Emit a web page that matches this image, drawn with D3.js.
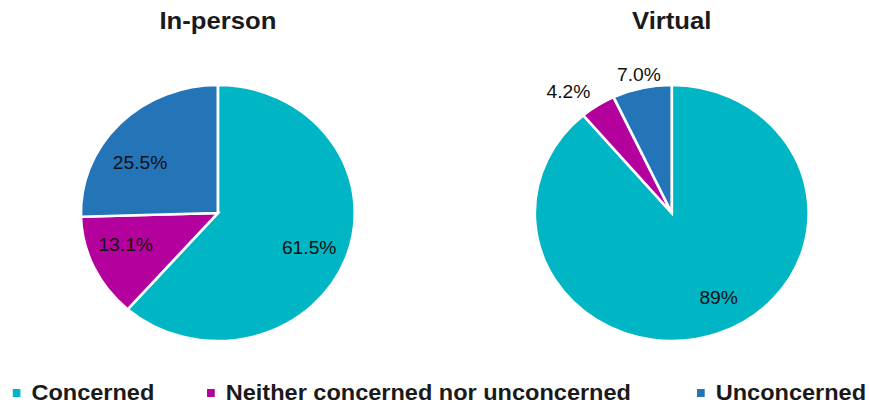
<!DOCTYPE html>
<html>
<head>
<meta charset="utf-8">
<script src="https://cdn.jsdelivr.net/npm/d3@7"></script>
<style>
  html, body { margin: 0; padding: 0; background: #fff; }
  svg { display: block; font-family: "Liberation Sans", Arial, sans-serif; }
</style>
</head>
<body>
<svg id="chart" width="870" height="406"></svg>
<script>
// Survey responses, in percent
const categories = ["Concerned", "Neither concerned nor unconcerned", "Unconcerned"];
const panels = ["In-person", "Virtual"];
const inPersonValues = [61.5, 13.1, 25.5];
const virtualValues = [89, 4.2, 7.0];
const inPersonLabels = ["61.5%", "13.1%", "25.5%"];
const virtualLabels = ["89%", "4.2%", "7.0%"];
const colors = ["#00b6c4", "#b4009c", "#2474b8"];

// Small hand adjustments of the value labels, in screen pixels
const inPersonLabelShift = [[-1, 2], [-3, -8], [-7, 14]];
const virtualLabelShift = [[13, -2], [0, -3], [0, -1]];

const W = 870, H = 406;
const sx = 1.07;            // horizontal stretch of the whole drawing
const R = 128;
const cy = 213;

const svg = d3.select("#chart");
const root = svg.append("g").attr("transform", `scale(${sx},1)`);

const color = d3.scaleOrdinal().domain(categories).range(colors);
const panelX = d3.scalePoint().domain(panels).range([203.6, 627.8]);

const pie = d3.pie().sort(null).value(d => d.value);
const arc = d3.arc().innerRadius(0).outerRadius(R);
const labelArc = d3.arc().innerRadius(R * 0.72).outerRadius(R * 0.72);

const datasets = [
  { title: panels[0], values: inPersonValues, labels: inPersonLabels, shift: inPersonLabelShift },
  { title: panels[1], values: virtualValues, labels: virtualLabels, shift: virtualLabelShift }
];

datasets.forEach(ds => {
  const cx = panelX(ds.title);
  const g = root.append("g").attr("transform", `translate(${cx},${cy})`);
  const data = categories.map((c, i) => ({
    cat: c, value: ds.values[i], label: ds.labels[i], shift: ds.shift[i]
  }));
  const arcs = pie(data);

  g.selectAll("path.slice").data(arcs).join("path")
    .attr("class", "slice")
    .attr("d", arc)
    .attr("fill", d => color(d.data.cat))
    .attr("stroke", "#fff")
    .attr("stroke-width", 2.5)
    .attr("stroke-linejoin", "miter");

  g.selectAll("text.val").data(arcs).join("text")
    .attr("class", "val")
    .each(function(d) {
      const t = d3.select(this);
      const mid = (d.startAngle + d.endAngle) / 2;
      const [dx, dy] = d.data.shift;
      if (d.data.value >= 10) {
        const [x, y] = labelArc.centroid(d);
        t.attr("x", x + dx / sx).attr("y", y + dy).attr("text-anchor", "middle");
      } else {
        const r = R * 1.1;
        const x = Math.sin(mid) * r, y = -Math.cos(mid) * r;
        const s = Math.sin(mid);
        t.attr("x", x + dx / sx).attr("y", y + dy)
         .attr("text-anchor", s < -0.4 ? "end" : (s > 0.4 ? "start" : "middle"));
      }
    })
    .attr("dominant-baseline", "central")
    .attr("font-size", 18)
    .attr("fill", "#111")
    .text(d => d.data.label);

  root.append("text")
    .attr("x", cx).attr("y", 29)
    .attr("text-anchor", "middle")
    .attr("font-size", 24)
    .attr("font-weight", "bold")
    .attr("fill", "#1a1a1a")
    .text(ds.title);
});

// Legend
const legendX = d3.scaleOrdinal().domain(categories).range([11.9, 193.5, 651.4]);
const legend = root.append("g");
categories.forEach(c => {
  const x = legendX(c);
  legend.append("rect")
    .attr("x", x).attr("y", 389)
    .attr("width", 7.2).attr("height", 8)
    .attr("fill", color(c));
  legend.append("text")
    .attr("x", x + 17.5).attr("y", 400)
    .attr("font-size", 22)
    .attr("font-weight", "bold")
    .attr("fill", "#1a1a1a")
    .text(c);
});
</script>
</body>
</html>
